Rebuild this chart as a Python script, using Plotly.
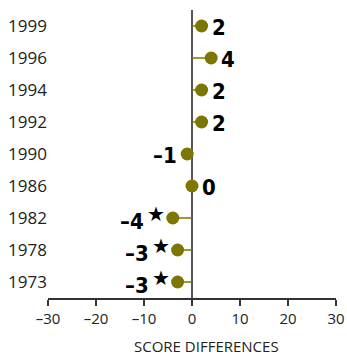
import plotly.graph_objects as go

years = ["1973", "1978", "1982", "1986", "1990", "1992", "1994", "1996", "1999"]
diffs = [-3, -3, -4, 0, -1, 2, 2, 4, 2]
labels = ["–3", "–3", "–4", "0", "–1", "2", "2", "4", "2"]
significant = [True, True, True, False, False, False, False, False, False]
x_ticks = [-30, -20, -10, 0, 10, 20, 30]
x_ticktext = ["–30", "–20", "–10", "0", "10", "20", "30"]

OLIVE = "#7d7600"
rows = list(range(len(years)))

fig = go.Figure()

# stems
sx, sy = [], []
for r, v in zip(rows, diffs):
    sx += [0, v, None]
    sy += [r, r, None]
fig.add_trace(go.Scatter(x=sx, y=sy, mode="lines", line=dict(color=OLIVE, width=1.5),
                         hoverinfo="skip", showlegend=False))
# dots
fig.add_trace(go.Scatter(x=diffs, y=rows, mode="markers",
                         marker=dict(color=OLIVE, size=13, line=dict(width=0)),
                         showlegend=False))

annots = []
label_font = dict(family="DejaVu Sans Condensed", size=22, color="black")
for r, v, t, s in zip(rows, diffs, labels, significant):
    if v >= 0:
        annots.append(dict(x=v, y=r, text="<b>" + t + "</b>", showarrow=False,
                           xanchor="left", xshift=8, yshift=-1, font=label_font))
    else:
        if s:
            annots.append(dict(x=v, y=r, text="★", showarrow=False, xanchor="center",
                               xshift=-17, yshift=4,
                               font=dict(family="DejaVu Sans", size=20, color="black")))
            annots.append(dict(x=v, y=r, text="<b>" + t + "</b>", showarrow=False,
                               xanchor="right", xshift=-27, yshift=-3, font=label_font))
        else:
            annots.append(dict(x=v, y=r, text="<b>" + t + "</b>", showarrow=False,
                               xanchor="right", xshift=-8, yshift=-1, font=label_font))

annots.append(dict(x=0.552, y=0, xref="paper", yref="paper", text="SCORE DIFFERENCES",
                   showarrow=False, yanchor="top", yshift=-36,
                   font=dict(family="Open Sans, sans-serif", size=15, color="#222")))

fig.update_layout(
    width=347, height=356,
    margin=dict(l=48, r=11, t=10, b=58),
    plot_bgcolor="white", paper_bgcolor="white",
    font=dict(family="Open Sans, sans-serif", size=15, color="#222"),
    xaxis=dict(range=[-30, 30], tickvals=x_ticks, ticktext=x_ticktext, automargin=False,
               showgrid=False, zeroline=True, zerolinecolor="#555", zerolinewidth=2,
               showline=True, linecolor="#333", linewidth=1.5,
               ticks="outside", ticklen=6, tickcolor="#333", tickwidth=1.5,
               tickfont=dict(size=15)),
    yaxis=dict(tickvals=rows, ticktext=years, automargin=False,
               range=[-0.5, 8.5], showgrid=False, zeroline=False, showline=False,
               ticks="", tickfont=dict(size=17)),
    annotations=annots,
)

fig.write_html("out.html", config={"displayModeBar": False})

# remove default page margin so the figure sits at the window's top-left corner
with open("out.html", "r", encoding="utf-8") as f:
    html = f.read()
html = html.replace("<body>", '<body style="margin:0;padding:0;">', 1)
with open("out.html", "w", encoding="utf-8") as f:
    f.write(html)
